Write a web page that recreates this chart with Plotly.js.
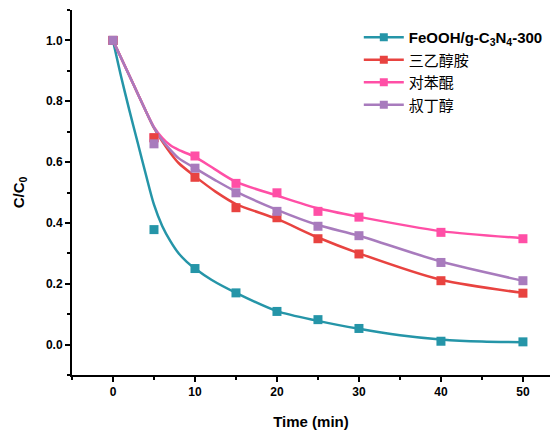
<!DOCTYPE html>
<html>
<head>
<meta charset="utf-8">
<script src="https://cdn.plot.ly/plotly-3.0.1.min.js"></script>
<style>html,body{margin:0;padding:0;background:#fff;}#chart{width:558px;height:430px;}</style>
</head>
<body>
<div id="chart"></div>
<script>
// Measured points
const time = [0, 5, 10, 15, 20, 25, 30, 40, 50];
const feooh = [1.0, 0.378, 0.25, 0.17, 0.109, 0.082, 0.053, 0.011, 0.009];
const tea = [1.0, 0.68, 0.55, 0.45, 0.417, 0.348, 0.298, 0.21, 0.169];
const bq = [1.0, 0.68, 0.62, 0.53, 0.499, 0.438, 0.419, 0.369, 0.348];
const tba = [1.0, 0.66, 0.58, 0.499, 0.438, 0.389, 0.358, 0.27, 0.21];

// Fitted curves
const curveTimeA = [0, 1, 2, 3, 4, 5, 6, 7, 8, 9, 10, 12, 15, 20, 25, 30, 35, 40, 45, 50];
const feoohCurve = [1.0, 0.88, 0.77, 0.665, 0.56, 0.46, 0.39, 0.34, 0.3, 0.272, 0.25, 0.213, 0.17, 0.11, 0.078, 0.052, 0.031, 0.017, 0.01, 0.008];
const curveTimeB = [0, 2.5, 4, 5, 6, 7, 8, 10, 12.5, 15, 20, 25, 30, 40, 50];
const teaCurve = [1.0, 0.855, 0.768, 0.712, 0.668, 0.63, 0.597, 0.553, 0.503, 0.462, 0.413, 0.352, 0.3, 0.213, 0.17];
const bqCurve = [1.0, 0.855, 0.768, 0.715, 0.68, 0.655, 0.64, 0.617, 0.575, 0.535, 0.49, 0.448, 0.42, 0.373, 0.35];
const tbaCurve = [1.0, 0.855, 0.768, 0.713, 0.672, 0.64, 0.613, 0.58, 0.54, 0.503, 0.443, 0.393, 0.358, 0.273, 0.21];

const names = ['<b>FeOOH/g-C<sub>3</sub>N<sub>4</sub>-300</b>', '三乙醇胺', '对苯醌', '叔丁醇'];
const colors = ['#2595a8', '#e84340', '#ff4fa6', '#a87bbd'];

const pts = [feooh, tea, bq, tba];
const curves = [[curveTimeA, feoohCurve], [curveTimeB, teaCurve], [curveTimeB, bqCurve], [curveTimeB, tbaCurve]];

const traces = [];
for (let i = 0; i < 4; i++) {
  traces.push({x: curves[i][0], y: curves[i][1], mode: 'lines', line: {color: colors[i], width: 2.5, shape: 'spline', smoothing: 0.8}, showlegend: false, hoverinfo: 'skip'});
}
const order = [0, 2, 1, 3];
for (const i of order) {
  traces.push({x: time, y: pts[i], mode: 'markers', marker: {symbol: 'square', size: 9, color: colors[i]}, showlegend: false});
}
for (let i = 0; i < 4; i++) {
  traces.push({x: [null], y: [null], name: names[i], mode: 'lines+markers', line: {color: colors[i], width: 2.5}, marker: {symbol: 'square', size: 8, color: colors[i]}});
}

const tickFont = {family: 'Liberation Sans, Arial, sans-serif', size: 12, color: '#000', weight: 'bold'};
const layout = {
  width: 558, height: 430,
  margin: {l: 72, r: 8, t: 10, b: 55},
  paper_bgcolor: '#fff', plot_bgcolor: '#fff',
  showlegend: true,
  legend: {x: 0.6, y: 0.97, xanchor: 'left', yanchor: 'top', bgcolor: 'rgba(0,0,0,0)', tracegroupgap: 0,
           font: {family: 'Liberation Sans, Noto Sans CJK SC, sans-serif', size: 15, color: '#000'}, itemwidth: 40},
  xaxis: {range: [-5, 53.3], tick0: 0, dtick: 10, ticks: 'outside', ticklen: 5, tickwidth: 2, tickcolor: '#000',
          showline: true, linewidth: 2, linecolor: '#000', showgrid: false, zeroline: false,
          minor: {dtick: 5, tick0: 0, ticks: 'outside', ticklen: 3, tickwidth: 2, tickcolor: '#000', showgrid: false},
          tickfont: tickFont,
          title: {text: '<b>Time (min)</b>', font: {family: 'Liberation Sans, Arial, sans-serif', size: 15, color: '#000'}, standoff: 18}},
  yaxis: {range: [-0.1, 1.1], tick0: 0, dtick: 0.2, tickformat: '.1f', ticks: 'outside', ticklen: 5, tickwidth: 2, tickcolor: '#000',
          showline: true, linewidth: 2, linecolor: '#000', showgrid: false, zeroline: false,
          minor: {dtick: 0.1, tick0: 0, ticks: 'outside', ticklen: 3, tickwidth: 2, tickcolor: '#000', showgrid: false},
          tickfont: tickFont,
          title: {text: '<b>C/C<sub>0</sub></b>', font: {family: 'Liberation Sans, Arial, sans-serif', size: 15, color: '#000'}, standoff: 18}}
};
Plotly.newPlot('chart', traces, layout, {displayModeBar: false, staticPlot: true});
</script>
</body>
</html>
